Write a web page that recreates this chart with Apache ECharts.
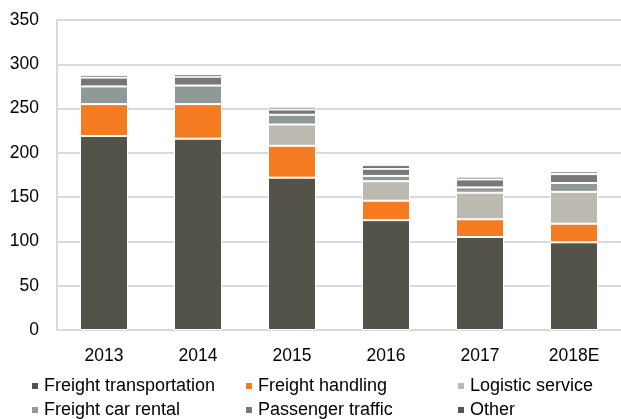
<!DOCTYPE html>
<html>
<head>
<meta charset="utf-8">
<script src="https://cdn.jsdelivr.net/npm/echarts@6/dist/echarts.min.js"></script>
<style>
  html, body { margin: 0; padding: 0; background: #fff; }
  #chart { width: 621px; height: 419px; }
</style>
</head>
<body>
<div id="chart"></div>
<script>
// categories and values
var years = ["2013", "2014", "2015", "2016", "2017", "2018E"];
var freightTransportation = [219, 216, 172, 124, 105, 99];
var freightHandling = [36, 39, 36, 22, 20, 21];
var logisticService = [0, 0, 24, 22, 30, 36];
var freightCarRental = [20, 21, 11, 6, 6, 10];
var passengerTraffic = [10, 10, 6, 8, 9, 10];
var other = [3, 3, 3, 4, 3, 3];
var yTicks = [0, 50, 100, 150, 200, 250, 300, 350];

var names = ["Freight transportation", "Freight handling", "Logistic service",
  "Freight car rental", "Passenger traffic", "Other"];
var values = [freightTransportation, freightHandling, logisticService,
  freightCarRental, passengerTraffic, other];
var colors = ["#545349", "#f47b20", "#bcb9b0", "#8f9a98", "#78777a", "#4f5555"];

// legend: 3 columns x 2 rows
var legendX = [30, 244, 456];
var legendY = [377, 401];

var chart = echarts.init(document.getElementById("chart"));

var legends = names.map(function (n, i) {
  return {
    data: [n],
    left: legendX[i % 3],
    top: legendY[Math.floor(i / 3)],
    itemWidth: 8,
    itemHeight: 8,
    itemGap: 0,
    icon: "rect",
    padding: 0,
    textStyle: { fontFamily: "Liberation Sans", fontSize: 18, color: "#000", padding: [0, 0, 0, 0] }
  };
});

var series = names.map(function (n, i) {
  return {
    name: n,
    type: "bar",
    stack: "total",
    barWidth: 48,
    data: values[i],
    itemStyle: { color: colors[i], borderColor: "#fff", borderWidth: 1 }
  };
});

chart.setOption({
  animation: false,
  textStyle: { fontFamily: "Liberation Sans" },
  legend: legends,
  grid: { left: 57, right: -3, top: 20, bottom: 89 },
  xAxis: {
    type: "category",
    data: years,
    axisTick: { show: false },
    axisLine: { lineStyle: { color: "#d9d9d9", width: 2 } },
    axisLabel: { fontSize: 17.5, color: "#000", margin: 17 }
  },
  yAxis: {
    type: "value",
    min: yTicks[0],
    max: yTicks[yTicks.length - 1],
    interval: yTicks[1] - yTicks[0],
    axisLine: { show: true, lineStyle: { color: "#d9d9d9", width: 2 } },
    axisTick: { show: false },
    splitLine: { lineStyle: { color: "#d9d9d9", width: 2 } },
    axisLabel: { fontSize: 17.5, color: "#000", margin: 18 }
  },
  series: series
});
</script>
</body>
</html>
